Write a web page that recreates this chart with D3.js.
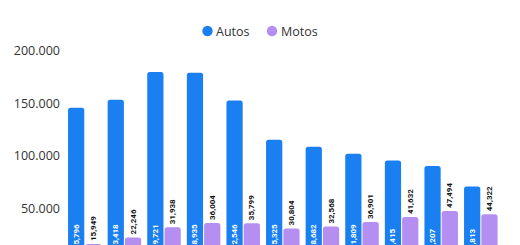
<!DOCTYPE html>
<html>
<head>
<meta charset="utf-8">
<script src="https://cdn.jsdelivr.net/npm/d3@7"></script>
<style>
  html, body { margin: 0; padding: 0; background: #fff; overflow: hidden; }
  svg { display: block; }
</style>
</head>
<body>
<svg id="chart" width="520" height="245"></svg>
<script>
const categories = ["1","2","3","4","5","6","7","8","9","10","11"];
const seriesNames = ["Autos", "Motos"];
const autos = [145796, 153418, 179721, 178935, 152546, 115325, 108682, 101809, 95415, 90207, 70813];
const motos = [15949, 22246, 31938, 36004, 35799, 30804, 32568, 36901, 41632, 47494, 44322];
const yTicks = [50000, 100000, 150000, 200000];
const colors = { Autos: "#1a7ff0", Motos: "#b48ef0" };

const svg = d3.select("#chart");
const font = "'Open Sans', 'Noto Sans', sans-serif";

const y = d3.scaleLinear().domain([0, 200000]).range([260.8, 50.7]);
const x0 = d3.scaleBand().domain(categories).range([65, 500.6]).paddingInner(0.154).paddingOuter(0.077);
const x1 = d3.scaleBand().domain(seriesNames).range([0, x0.bandwidth()]).paddingInner(0.06);

// y axis labels
const fmt = v => d3.format(",")(v).replace(/,/g, ".");
svg.append("g").selectAll("text").data(yTicks).join("text")
  .attr("x", 60).attr("y", d => y(d))
  .attr("text-anchor", "end").attr("dominant-baseline", "central")
  .attr("font-family", font).attr("font-size", 12.5).attr("fill", "#333")
  .text(fmt);

const data = categories.map((c, i) => ({ c, Autos: autos[i], Motos: motos[i] }));

const groups = svg.append("g").selectAll("g").data(data).join("g")
  .attr("transform", d => `translate(${x0(d.c)},0)`);

groups.selectAll("rect").data(d => seriesNames.map(s => ({ s, v: d[s] }))).join("rect")
  .attr("x", d => x1(d.s)).attr("width", x1.bandwidth())
  .attr("y", d => y(d.v)).attr("height", d => y(0) - y(d.v))
  .attr("rx", 2.5).attr("fill", d => colors[d.s]);

const lblFmt = d3.format(",");
// Autos labels inside bar, white
groups.append("text")
  .attr("transform", d => `translate(${x1("Autos") + x1.bandwidth() / 2},${y(0) - 7}) rotate(-90)`)
  .attr("text-anchor", "start").attr("dominant-baseline", "central")
  .attr("font-family", "Roboto, sans-serif").attr("font-weight", "bold").attr("font-size", 8)
  .attr("fill", "#fff")
  .text(d => lblFmt(d.Autos));

// Motos labels above bar, dark
groups.append("text")
  .attr("transform", d => `translate(${x1("Motos") + x1.bandwidth() / 2},${y(d.Motos) - 3}) rotate(-90)`)
  .attr("text-anchor", "start").attr("dominant-baseline", "central")
  .attr("font-family", "Roboto, sans-serif").attr("font-weight", "bold").attr("font-size", 8)
  .attr("fill", "#111")
  .text(d => lblFmt(d.Motos));

// legend
const legendPos = [{ s: "Autos", cx: 207.5, tx: 216 }, { s: "Motos", cx: 272, tx: 281 }];
const lg = svg.append("g");
lg.selectAll("circle").data(legendPos).join("circle")
  .attr("cx", d => d.cx).attr("cy", 31).attr("r", 5.2).attr("fill", d => colors[d.s]);
lg.selectAll("text").data(legendPos).join("text")
  .attr("x", d => d.tx).attr("y", 31).attr("dominant-baseline", "central")
  .attr("font-family", font).attr("font-size", 12.5).attr("fill", "#333")
  .text(d => d.s);
</script>
</body>
</html>
